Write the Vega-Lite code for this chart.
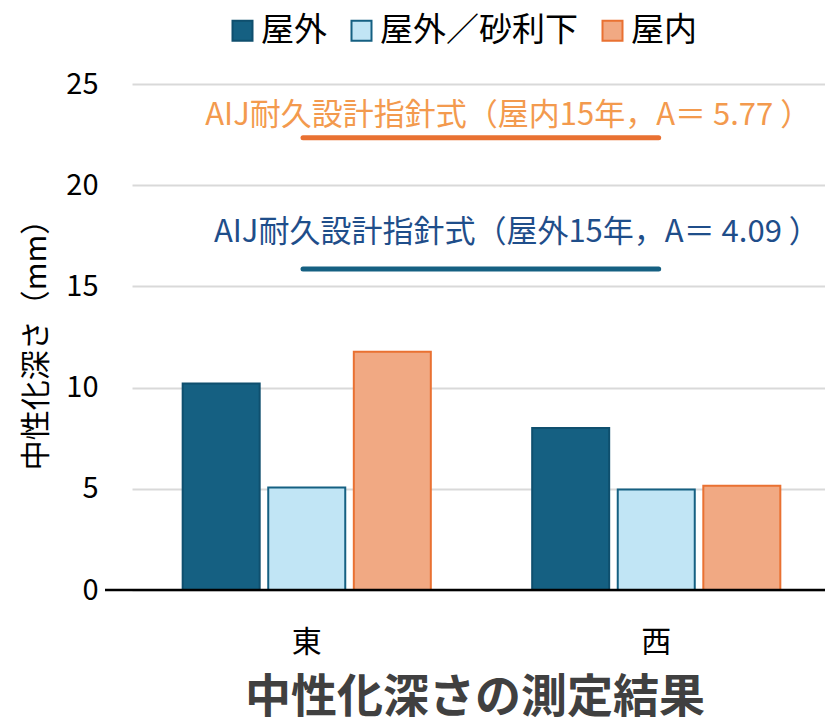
{
  "$schema": "https://vega.github.io/schema/vega-lite/v6.json",
  "width": 720,
  "height": 506,
  "autosize": {"type": "none"},
  "padding": {"left": 105, "top": 84, "right": 0, "bottom": 135},
  "background": "white",
  "config": {"font": "Noto Sans CJK JP", "view": {"stroke": null}},
  "title": {"text": "中性化深さの測定結果", "orient": "bottom", "fontSize": 46, "fontWeight": "bold", "color": "#404040", "offset": 19, "dx": 10},
  "layer": [
    {
      "data": {"values": [
        {"方位": "東", "種別": "屋外", "深さ": 10.2},
        {"方位": "東", "種別": "屋外／砂利下", "深さ": 5.07},
        {"方位": "東", "種別": "屋内", "深さ": 11.77},
        {"方位": "西", "種別": "屋外", "深さ": 8.0},
        {"方位": "西", "種別": "屋外／砂利下", "深さ": 4.97},
        {"方位": "西", "種別": "屋内", "深さ": 5.15}
      ]},
      "mark": {"type": "bar", "strokeWidth": 2},
      "encoding": {
        "x": {"field": "方位", "type": "nominal", "sort": ["東", "西"],
          "scale": {"range": [27, 726], "paddingInner": 0.29, "paddingOuter": 0.145},
          "axis": {"title": null, "labelAngle": 0, "labelFontSize": 30, "labelColor": "#000", "ticks": false, "domain": false, "labelPadding": 37}},
        "xOffset": {"field": "種別", "type": "nominal", "sort": ["屋外", "屋外／砂利下", "屋内"], "scale": {"paddingInner": 0.1, "paddingOuter": 0}},
        "y": {"field": "深さ", "type": "quantitative", "scale": {"domain": [0, 25], "nice": false, "zero": true},
          "axis": {"values": [0, 5, 10, 15, 20, 25], "title": "中性化深さ（mm）", "titleFontSize": 30, "titleFontWeight": "normal", "titleColor": "#000", "labelFontSize": 29, "labelColor": "#000", "gridColor": "#D9D9D9", "gridWidth": 2, "domain": false, "ticks": false, "labelPadding": 7, "titlePadding": 14}},
        "fill": {"field": "種別", "type": "nominal",
          "scale": {"domain": ["屋外", "屋外／砂利下", "屋内"], "range": ["#156082", "#C1E5F5", "#F1A983"]},
          "legend": {"title": null, "orient": "none", "direction": "horizontal", "legendX": 121, "legendY": -70, "symbolType": "square", "symbolSize": 400, "symbolStrokeWidth": 2, "labelFontSize": 33, "labelColor": "#000", "labelOffset": 2, "labelLimit": 400, "columnPadding": 18}},
        "stroke": {"field": "種別", "type": "nominal",
          "scale": {"domain": ["屋外", "屋外／砂利下", "屋内"], "range": ["#0F4F6E", "#156082", "#E97132"]}}
      }
    },
    {
      "data": {"values": [{"base": 0}]},
      "mark": {"type": "rule", "color": "#000", "strokeWidth": 2.5},
      "encoding": {"y": {"field": "base", "type": "quantitative", "scale": {"domain": [0, 25], "nice": false}}}
    },
    {
      "data": {"values": [
        {"式": "屋内", "x1": 0.275, "x2": 0.769, "A": 22.35},
        {"式": "屋外", "x1": 0.275, "x2": 0.769, "A": 15.86}
      ]},
      "mark": {"type": "rule", "strokeWidth": 5, "strokeCap": "round"},
      "encoding": {
        "x": {"field": "x1", "type": "quantitative", "scale": {"domain": [0, 1]}, "axis": null},
        "x2": {"field": "x2"},
        "y": {"field": "A", "type": "quantitative", "scale": {"domain": [0, 25], "nice": false}},
        "color": {"field": "式", "type": "nominal", "scale": {"domain": ["屋内", "屋外"], "range": ["#E97132", "#156082"]}, "legend": null}
      }
    },
    {
      "data": {"values": [
        {"label": "AIJ耐久設計指針式（屋内15年，A＝ 5.77 ）", "pos": 0.56, "v": 23.4, "c": "屋内"},
        {"label": "AIJ耐久設計指針式（屋外15年，A＝ 4.09 ）", "pos": 0.572, "v": 17.64, "c": "屋外"}
      ]},
      "mark": {"type": "text", "fontSize": 31, "baseline": "middle", "align": "center"},
      "encoding": {
        "x": {"field": "pos", "type": "quantitative", "scale": {"domain": [0, 1]}, "axis": null},
        "y": {"field": "v", "type": "quantitative", "scale": {"domain": [0, 25], "nice": false}},
        "text": {"field": "label"},
        "color": {"field": "c", "type": "nominal", "scale": {"domain": ["屋内", "屋外"], "range": ["#F39A4E", "#1F4E8A"]}, "legend": null}
      }
    }
  ],
  "resolve": {"scale": {"x": "independent", "color": "independent"}}
}
